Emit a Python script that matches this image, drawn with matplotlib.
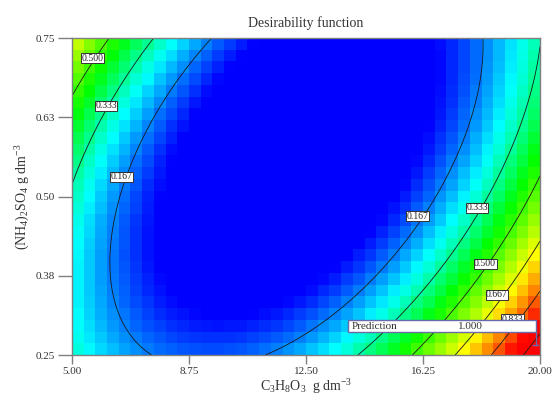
import numpy as np
import matplotlib
matplotlib.use('Agg')
import matplotlib.pyplot as plt
from matplotlib.colors import LinearSegmentedColormap
from matplotlib.patches import Rectangle

# Quadratic response-surface model for the desirability (coded factors A, B)
b0 = -0.0426
bA = 0.1142
bB = -0.0996
bAA = 0.475
bBB = 0.1647
bAB = -0.282

# Factor ranges
x_low, x_high = 5.0, 20.0        # C3H8O3, g dm-3
y_low, y_high = 0.25, 0.75       # (NH4)2SO4, g dm-3

# Contour levels and where their labels sit
levels = [0.167, 0.333, 0.500, 0.667, 0.833, 1.000]
label_levels = [0.500, 0.333, 0.167, 0.167, 0.333, 0.500, 0.667, 0.833]
label_x = [5.67, 6.09, 6.60, 16.06, 17.98, 18.24, 18.62, 19.13]
label_y = [0.718, 0.643, 0.531, 0.469, 0.482, 0.394, 0.345, 0.306]

# Prediction flag
pred_x, pred_y = 19.87, 0.266
pred_value = 1.000

x_ticks = [5.00, 8.75, 12.50, 16.25, 20.00]
y_ticks = [0.25, 0.375, 0.50, 0.625, 0.75]
y_tick_labels = ['0.25', '0.38', '0.50', '0.63', '0.75']

plt.rcParams['font.family'] = ['Liberation Serif', 'DejaVu Serif']
plt.rcParams['mathtext.fontset'] = 'custom'
plt.rcParams['mathtext.rm'] = 'Liberation Serif'
plt.rcParams['mathtext.it'] = 'Liberation Serif:italic'

EDGE = '#7f7f7f'
TEXT = '#333333'


def desirability(x, y):
    A = (x - (x_low + x_high) / 2) / ((x_high - x_low) / 2)
    B = (y - (y_low + y_high) / 2) / ((y_high - y_low) / 2)
    return b0 + bA * A + bB * B + bAA * A**2 + bBB * B**2 + bAB * A * B


# Design-Expert style scale: flat blue at the bottom, red at the top
cmap = LinearSegmentedColormap.from_list(
    'de', [(0.0, '#0000ff'), (0.07, '#0000ff'), (0.26, '#00ffff'),
           (0.44, '#00ff00'), (0.68, '#ffff00'), (0.93, '#ff0000'),
           (1.0, '#ff0000')])

fig = plt.figure(figsize=(5.52, 3.96), dpi=100)
ax = fig.add_axes([0.1304, 0.1035, 0.8479, 0.8005])

# coarse colour cells
xe = np.linspace(x_low, x_high, 41)
ye = np.linspace(y_low, y_high, 28)
xc = (xe[:-1] + xe[1:]) / 2
yc = (ye[:-1] + ye[1:]) / 2
XC, YC = np.meshgrid(xc, yc)
D = np.clip(desirability(XC, YC), 0, 1)
ax.pcolormesh(xe, ye, D, cmap=cmap, vmin=0, vmax=1, shading='flat')

# smooth contour lines
xf = np.linspace(x_low, x_high, 300)
yf = np.linspace(y_low, y_high, 300)
XF, YF = np.meshgrid(xf, yf)
ax.contour(XF, YF, desirability(XF, YF), levels=levels,
           colors='#1a1a1a', linewidths=0.6)

for lv, lx, ly in zip(label_levels, label_x, label_y):
    ax.text(lx, ly, f'{lv:.3f}', fontsize=7, ha='center', va='center',
            color='#222222', zorder=4,
            bbox=dict(facecolor='white', edgecolor='#333333', pad=0.4,
                      linewidth=0.7))

# prediction box
box_l, box_r = 13.85, pred_x
box_b, box_t = 0.286, 0.305
ax.plot([pred_x, pred_x], [box_b, pred_y], color='#6a6aaa', lw=1, zorder=5)
ax.plot([pred_x - 0.08, pred_x + 0.08], [pred_y, pred_y], color='#6a6aaa',
        lw=1, zorder=5)
ax.add_patch(Rectangle((box_l, box_b), box_r - box_l, box_t - box_b,
                       facecolor='white', edgecolor='#6a6aaa', lw=1, zorder=5))
ax.text(box_l + 0.1, (box_b + box_t) / 2, 'Prediction', fontsize=8,
        ha='left', va='center', color=TEXT, zorder=6)
ax.text(17.76, (box_b + box_t) / 2, f'{pred_value:.3f}', fontsize=8,
        ha='center', va='center', color=TEXT, zorder=6)

ax.set_xlim(x_low, x_high)
ax.set_ylim(y_low, y_high)
ax.set_xticks(x_ticks)
ax.set_xticklabels([f'{t:.2f}' for t in x_ticks])
ax.set_yticks(y_ticks)
ax.set_yticklabels(y_tick_labels)
ax.tick_params(axis='x', direction='out', length=6.5, width=1, color=EDGE,
               labelsize=8, labelcolor=TEXT, pad=2)
ax.tick_params(axis='y', direction='out', length=10, width=1, color=EDGE,
               labelsize=8, labelcolor=TEXT, pad=2)
for s in ax.spines.values():
    s.set_color(EDGE)
    s.set_linewidth(1)

ax.set_title('Desirability function', fontsize=10, color=TEXT, pad=8)
ax.set_xlabel(r'C$_3$H$_8$O$_3$  g dm$^{-3}$', fontsize=10, color=TEXT,
              labelpad=1)
ax.set_ylabel(r'(NH$_4$)$_2$SO$_4$ g dm$^{-3}$', fontsize=10, color=TEXT,
              labelpad=3)

fig.savefig('out.png', dpi=100)
